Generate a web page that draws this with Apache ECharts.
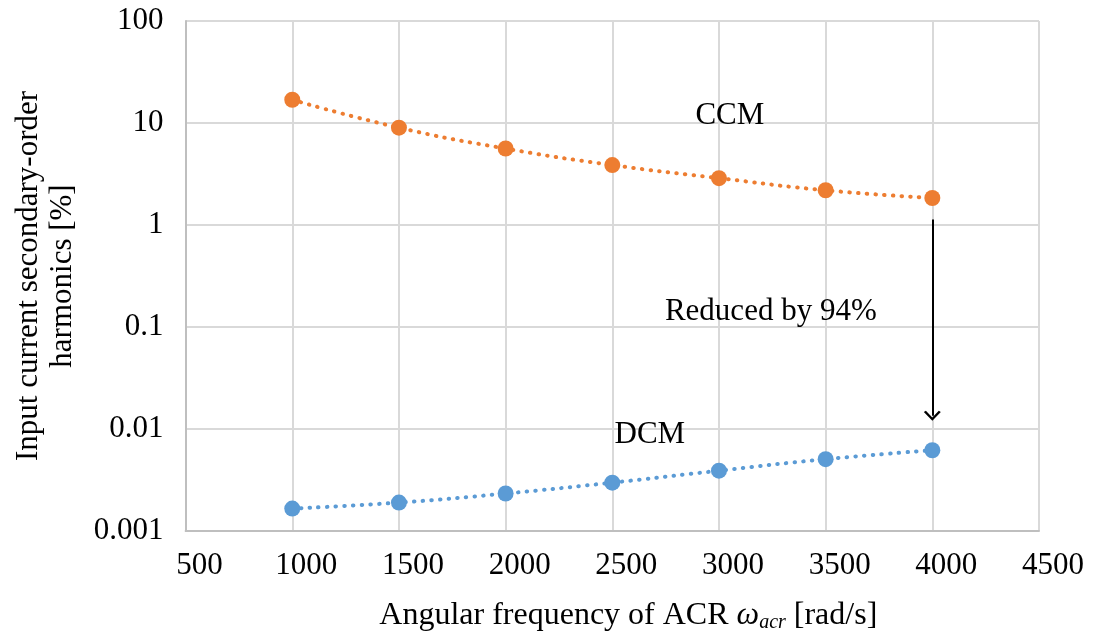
<!DOCTYPE html>
<html>
<head>
<meta charset="utf-8">
<script src="https://cdn.jsdelivr.net/npm/echarts@6/dist/echarts.min.js"></script>
<style>
  html, body { margin: 0; padding: 0; background: #ffffff; overflow: hidden; }
  #chart { width: 1093px; height: 638px; }
</style>
</head>
<body>
<div id="chart"></div>
<script>
// ACR angular frequency [rad/s]
const frequencies = [1000, 1500, 2000, 2500, 3000, 3500, 4000];
// Input current secondary-order harmonics [%]
const ccmValues = [16.9, 9.0, 5.62, 3.87, 2.88, 2.19, 1.84];
const dcmValues = [0.00166, 0.0019, 0.00233, 0.00298, 0.0039, 0.00506, 0.00619];
const yTickLabels = ['0.001', '0.01', '0.1', '1', '10', '100'];

// Annotation anchors in data units [x, y]
const ccmLabelAt = [3051, 11.7];
const dcmLabelAt = [2676, 0.0087];
const reductionLabelAt = [3243, 0.1416];
const reductionArrow = [[4000, 1.135], [4000, 0.0135]];

const FONT = 'Liberation Serif, Times New Roman, serif';
const ORANGE = '#ED7D31';
const BLUE = '#5B9BD5';

function pairs(xs, ys) { return xs.map((x, i) => [x, ys[i]]); }

function textPoint(coord, text) {
  return {
    coord: coord,
    symbol: 'circle',
    symbolSize: 0,
    label: {
      show: true, position: 'inside', formatter: text,
      color: '#000', fontFamily: FONT, fontSize: 31
    }
  };
}

const chart = echarts.init(document.getElementById('chart'), null, { renderer: 'canvas' });

const dotted = (color) => ({ color: color, width: 4, type: [0.5, 8.2], cap: 'round' });

chart.setOption({
  animation: false,
  backgroundColor: '#ffffff',
  grid: { left: 185.6, right: 54, top: 21, bottom: 101, containLabel: false },
  xAxis: {
    type: 'value', min: 500, max: 4500, interval: 500,
    axisLine: { show: true, lineStyle: { color: '#bfbfbf', width: 2 } },
    axisTick: { show: false },
    splitLine: { show: true, lineStyle: { color: '#d9d9d9', width: 2 } },
    axisLabel: {
      color: '#000', fontFamily: FONT, fontSize: 31, margin: 19,
      padding: [0, 0, 0, 28],
      formatter: (v) => String(v)
    },
    name: '{n|Angular frequency of ACR }{w|ω}{s|acr}{n| [rad/s]}',
    nameLocation: 'middle', nameGap: 68,
    nameTextStyle: {
      padding: [0, 0, 0, 32],
      rich: {
        n: { fontFamily: FONT, fontSize: 32, color: '#000' },
        w: { fontFamily: FONT, fontSize: 32, color: '#000', fontStyle: 'italic' },
        s: { fontFamily: FONT, fontSize: 20, color: '#000', fontStyle: 'italic', padding: [14, 0, 0, 0] }
      }
    }
  },
  yAxis: {
    type: 'log', logBase: 10, min: 0.001, max: 100,
    axisLine: { show: true, lineStyle: { color: '#bfbfbf', width: 2 } },
    axisTick: { show: false },
    splitLine: { show: true, lineStyle: { color: '#d9d9d9', width: 2 } },
    axisLabel: {
      color: '#000', fontFamily: FONT, fontSize: 31, margin: 22,
      formatter: (v) => {
        const k = Math.round(Math.log10(v)) + 3;
        return yTickLabels[k] !== undefined ? yTickLabels[k] : '';
      }
    },
    name: 'Input current secondary-order\nharmonics [%]',
    nameLocation: 'middle', nameGap: 106,
    nameTextStyle: { color: '#000', fontFamily: FONT, fontSize: 31, lineHeight: 34 }
  },
  series: [
    {
      name: 'CCM', type: 'line', smooth: true,
      data: pairs(frequencies, ccmValues),
      symbol: 'circle', symbolSize: 16,
      itemStyle: { color: ORANGE },
      lineStyle: dotted(ORANGE),
      markPoint: { data: [textPoint(ccmLabelAt, 'CCM'), textPoint(reductionLabelAt, 'Reduced by 94%')] },
      markLine: {
        silent: true,
        symbol: ['none', 'path://M5,0 L10,7.2 L8.8,8.2 L5,2.6 L1.2,8.2 L0,7.2 Z'],
        symbolSize: [17, 10],
        label: { show: false },
        lineStyle: { color: '#000', width: 2, type: 'solid' },
        data: [[{ coord: reductionArrow[0] }, { coord: reductionArrow[1] }]]
      }
    },
    {
      name: 'DCM', type: 'line', smooth: true,
      data: pairs(frequencies, dcmValues),
      symbol: 'circle', symbolSize: 16,
      itemStyle: { color: BLUE },
      lineStyle: dotted(BLUE),
      markPoint: { data: [textPoint(dcmLabelAt, 'DCM')] }
    }
  ]
});
</script>
</body>
</html>
